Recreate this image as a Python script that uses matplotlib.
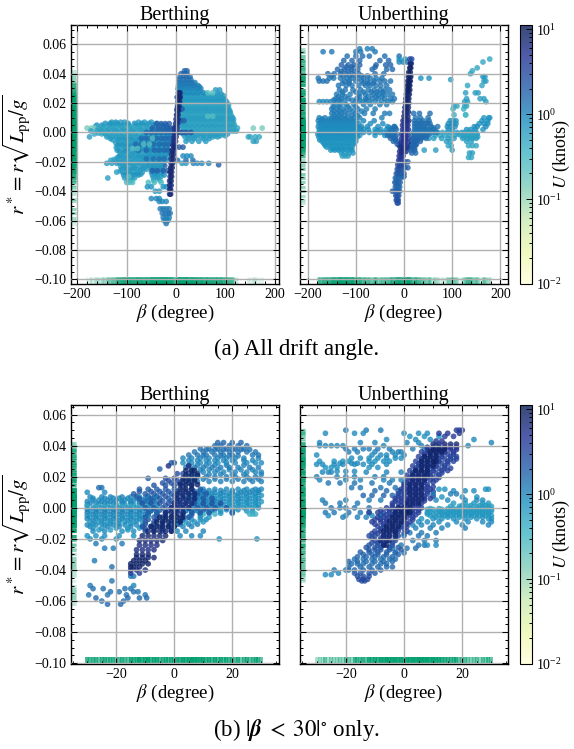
import numpy as np
import matplotlib
matplotlib.use('Agg')
import matplotlib.pyplot as plt
from matplotlib.colors import LogNorm
from matplotlib.ticker import MultipleLocator

plt.rcParams['font.family'] = ['Liberation Serif', 'DejaVu Serif']
plt.rcParams['mathtext.fontset'] = 'stix'

# each row: r*, U (knots), list of beta values
berth_all_fill = [
    (0.0062, 0.8, [-143, -133, -119, -97, -84, -69, -55, -38]),
    (0.0041, 0.5, [-163, -147, -129, -111, -93, -77, -61, -43, -33, -24]),
    (0.0021, 0.7, [-153, -137, -123, -107, -89, -71, -53, -37, -19]),
    (-0.0004, 0.5, [-157, -146, -127, -117, -99, -83, -67, -49, -31, -17]),
    (-0.0022, 0.4, [-137, -123, -109, -93, -79, -63, -47, -29, -13]),
    (-0.0041, 0.7, [-133, -114, -103, -91, -73, -55, -35, -21]),
    (-0.0062, 0.5, [-117, -101, -83, -71, -53, -41, -23]),
    (-0.0081, 0.7, [-113, -95, -75, -63, -44, -33, -17]),
    (-0.0102, 0.5, [-121, -103, -93, -73, -55, -43, -25]),
    (-0.0121, 0.7, [-119, -101, -83, -61, -51, -31, -21]),
    (-0.0143, 0.5, [-107, -87, -77, -57, -37, -27, -17]),
    (-0.0162, 0.7, [-115, -95, -75, -65, -45, -25]),
    (-0.0183, 0.5, [-125, -105, -85, -67, -55, -35, -23]),
    (-0.0204, 0.7, [-115, -95, -75, -57, -37]),
    (-0.0221, 0.5, [-107, -87, -67, -47, -27]),
    (-0.0243, 0.7, [-105, -85, -65, -45, -33]),
    (-0.0262, 0.5, [-113, -93, -73, -43, -35]),
    (-0.0283, 0.7, [-101, -81, -71, -43, -29]),
    (-0.0302, 0.5, [-99, -89, -41, -31]),
    (-0.0325, 0.4, [-97, -91, -45, -33]),
    (0.0013, 1.4, [-47, -33, -25, -15, -9]),
    (-0.0021, 1.5, [-65, -45, -35, -26, -16, -8]),
    (-0.0061, 1.4, [-75, -53, -41, -29, -19, -11]),
    (-0.0104, 1.5, [-67, -49, -37, -27, -19]),
    (-0.015, 1.6, [-53, -39, -29, -21]),
    (-0.0225, 1.8, [-55, -43, -31, -23]),
    (0.0012, 0.7, [19, 29, 39, 49, 59, 69, 79, 89, 99, 109, 118]),
    (0.0041, 0.5, [15, 25, 35, 45, 55, 65, 75, 85, 95, 105, 115]),
    (0.0061, 0.7, [13, 23, 33, 43, 53, 63, 73, 83, 93, 103, 113]),
    (0.0082, 0.5, [13, 23, 33, 43, 53, 63, 73, 83, 93, 103, 113]),
    (0.0101, 0.7, [15, 25, 35, 45, 55, 65, 75, 85, 95, 105, 114]),
    (0.0122, 0.5, [15, 25, 35, 45, 55, 65, 77, 87, 97, 107]),
    (0.0141, 0.6, [14, 23, 33, 43, 55, 63, 73, 83, 93, 103, 109]),
    (0.0161, 0.5, [13, 23, 33, 43, 53, 63, 73, 83, 93, 103]),
    (0.018, 0.7, [13, 23, 33, 43, 53, 63, 73, 83, 93, 103]),
    (0.0202, 0.5, [11, 21, 31, 41, 51, 61, 71, 81, 91, 101]),
    (0.0221, 0.7, [11, 21, 31, 41, 51, 61, 71, 81, 91, 99]),
    (0.024, 0.5, [11, 21, 31, 41, 51, 61, 71, 81, 91]),
    (0.0262, 0.9, [10, 19, 29, 39, 49, 60, 83, 91]),
    (0.0281, 0.8, [9, 19, 29, 39, 49]),
    (0.0312, 1.0, [9, 18, 28, 38, 47]),
    (0.0332, 1.2, [10, 18, 26, 34]),
    (-0.0022, 0.7, [23, 33, 43, 55, 69, 79, 89, 99]),
    (-0.0042, 0.7, [25, 37, 55, 67]),
]

berth_all = [
    (0.007, 0.7, [-130, -122, -112, -104, -76, -64, -50]),
    (0.005, 0.7, [-160, -150, -136, -126, -116, -106, -96, -82, -72, -60, -46, -30, -20]),
    (0.003, 0.15, [-180, -172, -164]),
    (0.003, 0.5, [-156, -146, -136, -126, -116, -106, -96, -86, -76, -66, -56, -46, -36, -26, -16]),
    (0.001, 0.6, [-172, -160, -150, -140, -130, -120, -110, -100, -90, -80, -70, -60, -50, -40, -30, -20, -12]),
    (-0.001, 0.5, [-165, -150, -142, -134, -124, -114, -104, -94, -84, -74, -64, -54, -44, -34, -24, -14]),
    (-0.003, 0.6, [-175, -140, -130, -120, -110, -100, -90, -80, -70, -60, -50, -40, -30, -20, -10]),
    (-0.005, 0.7, [-128, -118, -108, -98, -88, -78, -68, -58, -48, -38, -28, -18]),
    (-0.007, 0.6, [-122, -112, -104, -96, -86, -76, -66, -56, -46, -36, -26, -16]),
    (-0.009, 0.8, [-118, -108, -100, -90, -80, -70, -60, -50, -40, -30, -20]),
    (-0.011, 0.6, [-116, -106, -98, -88, -78, -68, -58, -48, -38, -28, -18]),
    (-0.013, 0.8, [-114, -104, -94, -84, -74, -64, -54, -44, -34, -24, -14]),
    (-0.015, 0.6, [-112, -102, -92, -82, -72, -62, -52, -42, -32, -22]),
    (-0.017, 0.7, [-118, -108, -98, -88, -78, -68, -58, -48, -38, -28, -18]),
    (-0.019, 0.6, [-132, -122, -112, -102, -92, -82, -72, -62, -52, -42, -32, -20]),
    (-0.021, 0.7, [-140, -130, -120, -110, -100, -90, -80, -70, -60, -50, -40, -30, 12, 20]),
    (-0.023, 0.6, [-112, -102, -92, -82, -72, -62, -52, -42, -32]),
    (-0.025, 0.7, [-110, -100, -90, -80, -70, -60, -50, -40, -28]),
    (-0.027, 0.6, [-120, -108, -98, -88, -78, -68, -50, -40, -30]),
    (-0.029, 0.8, [-106, -96, -86, -76, -48, -38, -24]),
    (-0.031, 0.6, [-138, -104, -94, -84, -46, -36]),
    (-0.034, 0.3, [-100, -94, -88, -56, -44, -30]),
    (-0.037, 0.8, [-58, -50, -26, -20]),
    (-0.04, 0.7, [-42, -34]),
    (-0.045, 1.0, [-50, -40, -34]),
    (-0.047, 1.0, [-34, -28, -20]),
    (-0.052, 1.2, [-32, -26, -20, -14]),
    (-0.055, 1.3, [-28, -22, -16, -12]),
    (-0.058, 1.2, [-26, -20, -14]),
    (-0.06, 1.0, [-24, -20, -16]),
    (-0.062, 1.4, [-20]),
    (0.006, 2.0, [-40, -30, -22, -14]),
    (0.003, 2.0, [-48, -36, -26, -18, -12, -6]),
    (0.0, 1.8, [-60, -50, -40, -30, -20, -12, -6]),
    (-0.004, 1.6, [-70, -60, -50, -40, -30, -22, -14, -6]),
    (-0.008, 1.6, [-82, -70, -58, -46, -34, -24, -16, -8]),
    (-0.012, 1.7, [-76, -60, -44, -34, -24, -16]),
    (-0.018, 1.5, [-60, -46, -34, -24]),
    (-0.026, 2.0, [-48, -38, -26, -18]),
    (-0.011, 0.25, [-88, -78]),
    (-0.008, 0.25, [-66, -54]),
    (-0.004, 0.25, [-48]),
    (-0.03, 0.25, [-96]),
    (-0.021, 1.0, [35, 43, 52, 66]),
    (-0.019, 1.5, [3, 20, 34]),
    (-0.022, 2.0, [86]),
    (-0.016, 0.9, [14, 30, 22]),
    (-0.006, 0.7, [20, 32, 46, 60]),
    (-0.003, 0.6, [18, 28, 38, 50, 62, 74, 84]),
    (-0.001, 0.6, [14, 24, 34, 44, 54, 64, 74, 84, 94, 104]),
    (0.001, 0.6, [14, 24, 34, 44, 54, 64, 74, 84, 94, 104, 114, 122]),
    (0.003, 0.5, [10, 20, 30, 40, 50, 60, 70, 80, 90, 100, 110, 124]),
    (0.005, 0.6, [8, 18, 28, 38, 48, 58, 68, 78, 88, 98, 108, 118]),
    (0.007, 0.5, [8, 18, 28, 38, 48, 58, 68, 78, 88, 98, 108, 116]),
    (0.009, 0.6, [10, 20, 30, 40, 50, 60, 70, 80, 90, 100, 110, 116]),
    (0.011, 0.6, [10, 20, 30, 40, 50, 60, 72, 82, 92, 102, 112]),
    (0.013, 0.5, [10, 20, 30, 40, 50, 60, 70, 80, 90, 100, 110]),
    (0.015, 0.6, [8, 18, 28, 38, 48, 58, 68, 78, 88, 98, 108]),
    (0.017, 0.6, [8, 18, 28, 38, 48, 58, 68, 78, 88, 98, 106]),
    (0.019, 0.5, [8, 18, 28, 38, 48, 58, 68, 78, 88, 98, 106]),
    (0.021, 0.6, [6, 16, 26, 36, 46, 56, 66, 76, 86, 96, 102]),
    (0.023, 0.7, [6, 16, 26, 36, 46, 56, 66, 76, 86, 96]),
    (0.025, 0.6, [6, 16, 26, 36, 46, 54, 64, 74, 84, 96]),
    (0.027, 0.9, [5, 14, 24, 34, 44, 56]),
    (0.029, 0.7, [5, 14, 24, 34, 44, 80, 88]),
    (0.027, 0.25, [64, 74]),
    (0.011, 0.25, [64, 74]),
    (0.03, 1.0, [4, 12, 22, 32, 42, 50]),
    (0.032, 1.1, [5, 14, 24, 34, 44]),
    (0.034, 1.2, [6, 14, 22, 30, 38]),
    (0.036, 1.4, [6, 14, 22, 30]),
    (0.038, 1.5, [8, 15, 22, 28]),
    (0.04, 1.6, [10, 16, 22]),
    (0.042, 1.7, [17, 22]),
    (0.003, 0.15, [156, 174]),
    (-0.003, 0.5, [146, 150, 160, 168]),
    (-0.006, 0.6, [156, 162]),
    (0.008, 1.8, [4, 10, 16]),
    (0.016, 2.0, [2, 6, 12]),
    (0.024, 2.2, [2, 8]),
    (0.0, 2.5, [0, 6, 12, 20, 30]),
    (-0.01, 2.2, [-2, 6, 14]),
    # navy streak
    (-0.042, 7, [-13, -11]), (-0.039, 7, [-13, -11]), (-0.036, 7, [-13, -10]),
    (-0.033, 8, [-13, -10]), (-0.03, 8, [-12, -9]), (-0.027, 8, [-12, -9]),
    (-0.024, 8, [-11, -8]), (-0.021, 8, [-10, -7]), (-0.018, 8, [-10, -6]),
    (-0.015, 8, [-9, -5]), (-0.012, 8, [-8, -4]), (-0.009, 7, [-6, -3]),
    (-0.006, 6, [-5, -1]), (-0.003, 6, [-4, 0]), (0.0, 6, [-3, 1]),
    (0.003, 6, [-2, 2]), (0.006, 7, [-1, 3]), (0.009, 7, [0, 4]),
    (0.012, 8, [1, 4]), (0.015, 8, [2, 5]), (0.018, 8, [3, 6]),
    (0.021, 8, [4, 7]), (0.024, 8, [5, 8]), (0.027, 8, [5, 8]),
]

unberth_all_fill = [
    (-0.0092, 0.7, [-163, -153, -145, -137, -129, -121, -113]),
    (-0.0112, 0.8, [-147, -139, -131, -123, -111]),
    (-0.0071, 0.7, [-167, -157, -147, -137, -127, -117, -105]),
    (-0.0051, 0.8, [-175, -165, -155, -145, -135, -125, -115, -107]),
    (-0.0031, 0.7, [-177, -169, -159, -149, -139, -129, -119, -109, -97]),
    (-0.0012, 0.8, [-179, -171, -161, -151, -141, -131, -121, -111, -99]),
    (0.0011, 0.8, [-171, -161, -151, -141, -131, -121, -111, -101, -90, -55]),
    (0.0031, 0.9, [-172, -161, -151, -141, -131, -121, -111, -101, -91]),
    (0.0052, 0.9, [-171, -161, -151, -141, -131, -121, -111, -100]),
    (0.0072, 1.0, [-172, -162, -152, -141, -130, -118, -106]),
    (0.0092, 1.1, [-170, -155, -144, -134, -122, -110]),
    (0.0115, 1.2, [-145, -135, -124, -108, -96]),
    (0.0145, 1.2, [-145, -133, -122, -106, -88]),
    (0.0175, 1.2, [-147, -135, -116, -100]),
    (0.022, 1.3, [-146, -134, -108, -92, -78]),
    (0.0245, 1.2, [-136, -122, -92, -74, -58, -46]),
    (0.0275, 1.3, [-128, -100, -84, -68, -56, -44]),
    (0.0335, 1.3, [-128, -114, -84, -74, -64]),
    (0.0385, 1.4, [-150, -126, -112, -100, -88, -76]),
    (0.0415, 1.5, [-130, -116, -102]),
    (0.0445, 1.6, [-120, -108, -60]),
    (0.0012, 1.2, [-24, 25, 35, 45, 55, 65]),
    (0.0032, 1.3, [-30, -18, 27, 37, 47, 61]),
    (-0.0012, 1.4, [-30, -20, 23, 33, 43, 53]),
    (-0.0032, 1.5, [-23, 22, 31, 41]),
    (-0.0052, 1.7, [-18, 20, 28]),
    (0.0065, 1.4, [27, 37, 49]),
    (-0.0012, 0.6, [112, 122, 132, 140, 152]),
    (-0.003, 0.6, [125, 137, 147, 153]),
    (0.0, 0.7, [110, 120, 138, 146]),
    (-0.0085, 1.5, [-10, 14, 20, 24]),
    (-0.0105, 1.6, [10, 16, 22]),
]

unberth_all = [
    (-0.008, 0.8, [-165, -155, -145, -135, -125, -115, -105]),
    (-0.01, 0.7, [-160, -150, -142, -134, -126, -118, -108]),
    (-0.012, 0.8, [-152, -144, -136, -128, -116, -108]),
    (-0.014, 0.7, [-130, -122, -114, -106]),
    (-0.016, 0.6, [-128, -122, -116]),
    (-0.006, 0.7, [-170, -160, -150, -140, -130, -120, -110, -100]),
    (-0.004, 0.8, [-172, -162, -152, -142, -132, -122, -112, -102]),
    (-0.002, 0.8, [-174, -164, -154, -144, -134, -124, -114, -104, -92, -60, -40, -30]),
    (0.0, 0.9, [-176, -166, -156, -146, -136, -126, -116, -106, -96, -84, -72, -60, -50, -42, -34, -26]),
    (0.002, 0.8, [-176, -166, -156, -146, -136, -126, -116, -106, -96, -84, -74, -60, -48, -36, -24]),
    (0.004, 0.9, [-178, -168, -158, -148, -138, -128, -118, -108, -98, -88, -76, -54, -34, -20]),
    (0.006, 0.9, [-176, -166, -156, -146, -136, -126, -116, -106, -94, -70, -44]),
    (0.008, 1.0, [-178, -168, -158, -148, -136, -124, -112, -100, -84, -62]),
    (0.01, 1.1, [-176, -164, -150, -140, -130, -118, -104, -92, -46]),
    (0.013, 1.2, [-150, -140, -130, -116, -100, -82, -64, -40, -30]),
    (0.016, 1.2, [-150, -138, -126, -112, -96, -78, -60]),
    (0.019, 1.1, [-144, -132, -120, -104, -84, -70, -50, -36]),
    (0.021, 1.0, [-176, -168, -160, -152, -138, -124, -100, -86, -72, -60, -46, -34, -24]),
    (0.023, 1.3, [-142, -130, -116, -98, -80, -66, -54, -40, -28, -20]),
    (0.026, 1.2, [-140, -128, -112, -94, -80, -64, -54, -44, -34, -24]),
    (0.029, 1.3, [-134, -122, -106, -90, -74, -62, -50, -40, -30]),
    (0.032, 1.3, [-136, -120, -108, -94, -80, -70, -58, -48, -36]),
    (0.035, 1.4, [-176, -168, -160, -124, -114, -100, -88, -76, -62, -50, -40, -28]),
    (0.037, 1.3, [-178, -155, -146, -132, -118, -108, -96, -84, -70, -58, -46]),
    (0.04, 1.5, [-158, -145, -132, -120, -108, -94, -60, -42]),
    (0.043, 1.6, [-138, -124, -110, -96, -66, -36, -24]),
    (0.046, 1.8, [-130, -116, -104, -92, -58, -38, -28]),
    (0.049, 1.7, [-125, -108, -92, -50, -32]),
    (0.052, 1.5, [-118, -100, -86, -72, -40, -10]),
    (0.055, 1.3, [-168, -150, -100, -90, -60]),
    (0.057, 1.2, [-92, -76, -66]),
    (0.048, 1.0, [-10, -2, 6]),
    (0.05, 0.8, [-10, 2]),
    (0.037, 0.8, [35, 52]),
    (0.036, 0.6, [97]),
    (0.05, 0.5, [178]),
    (0.048, 0.5, [164]),
    (0.044, 0.5, [152]),
    (0.042, 0.5, [142]),
    (0.04, 0.5, [138]),
    (0.038, 0.7, [164, 168]),
    (0.035, 0.6, [166, 170]),
    (0.032, 0.5, [132, 162]),
    (0.027, 0.6, [128, 148, 154]),
    (0.023, 0.6, [130, 158, 166]),
    (0.021, 0.6, [126, 132, 170]),
    (0.018, 0.5, [104, 110, 126, 130]),
    (0.016, 0.4, [102, 124]),
    (0.012, 0.4, [104, 128]),
    (0.012, 0.3, [128]),
    (0.01, 0.7, [166, 176, 178]),
    (0.008, 0.8, [96, 102, 108, 162, 174]),
    (0.006, 0.8, [92, 100, 108, 156, 166, 174]),
    (0.004, 0.9, [90, 98, 106, 146, 152, 170]),
    (0.002, 0.8, [92, 100, 130, 138, 148, 164]),
    (0.0, 0.6, [70, 80, 90, 100, 126, 134, 142, 150]),
    (-0.002, 0.5, [65, 75, 85, 95, 105, 118, 128, 136, 146]),
    (-0.004, 0.6, [52, 62, 78, 92, 104, 122, 132, 142, 150]),
    (-0.006, 0.6, [88, 96, 130, 140]),
    (-0.009, 0.5, [92, 98, 134, 142, 150]),
    (-0.012, 0.6, [42, 66, 100]),
    (-0.014, 0.6, [136, 142]),
    (-0.017, 0.5, [134, 140]),
    (0.0, 1.2, [-30, -20, 20, 30, 40, 50, 60, 68]),
    (0.002, 1.3, [-26, -16, 22, 32, 42, 52, 62]),
    (0.004, 1.4, [-20, 22, 32, 42, 56, 70]),
    (0.006, 1.5, [22, 32, 44, 54]),
    (0.008, 1.4, [22, 32, 40, 52]),
    (0.01, 1.3, [24, 34, 50]),
    (0.013, 1.5, [20, 32, 54]),
    (-0.002, 1.5, [-34, -24, -16, 18, 28, 38, 48]),
    (-0.004, 1.6, [-28, -18, 18, 26, 36, 46]),
    (-0.006, 1.7, [-22, -14, 16, 24, 34]),
    (-0.008, 1.7, [-14, 18, 26]),
    (-0.012, 1.8, [14, 22]),
    (-0.014, 1.6, [16, 24]),
    (-0.02, 2.0, [2, 8]),
    (-0.024, 1.8, [2, 8]),
    (-0.03, 1.8, [0, -2]),
    (-0.048, 2.5, [-14, -12]),
    (-0.046, 2.5, [-16, -14, -12]),
    (-0.043, 2.3, [-17, -14, -11]),
    (-0.04, 2.0, [-24, -18, -15, -12, -9]),
    (-0.037, 1.6, [-18, -15, -12, -9]),
    (-0.034, 1.8, [-19, -16, -12, -8]),
    (-0.031, 1.6, [-18, -15, -11, -7]),
    (-0.028, 2.0, [-16, -13, -9, -5, 0]),
    (-0.025, 2.3, [-14, -11, -7, -3]),
    (-0.022, 3.0, [-13, -9, -5, -1]),
    (-0.019, 4.0, [-11, -8, -4]),
    (-0.016, 5.0, [-10, -6, -2]),
    (-0.013, 6.0, [-9, -5, -1, 4]),
    (-0.01, 6.0, [-8, -4, 0, 6]),
    (-0.007, 5.0, [-6, -2, 2, 8]),
    (-0.004, 5.0, [-5, -1, 3, 8]),
    (-0.001, 5.0, [-5, -1, 3, 8]),
    (0.002, 5.0, [-3, 1, 5, 9]),
    (0.005, 5.0, [-3, 1, 5, 8]),
    (0.008, 6.0, [-2, 2, 6, 10]),
    (0.011, 7.0, [0, 4, 8]),
    (0.014, 7.0, [1, 5, 9]),
    (0.017, 8.0, [2, 5, 9]),
    (0.02, 8.0, [3, 6, 10]),
    (0.023, 8.0, [4, 7, 10]),
    (0.026, 8.0, [5, 8, 11]),
    (0.029, 9.0, [6, 9, 12]),
    (0.032, 9.0, [7, 10, 12]),
    (0.035, 9.0, [8, 11, 13]),
    (0.038, 9.0, [9, 12, 14]),
    (0.041, 9.0, [10, 13]),
    (0.044, 9.0, [12, 14]),
    (0.047, 8.0, [13, 15]),
    (0.05, 3.0, [12, 16]),
]

berth_zoom_fill = [
    (0.0062, 0.9, [-28, -24, -21, -19, -16, -13, -10, -7]),
    (0.0041, 1.0, [-30, -25, -22, -18, -15, -12, -9]),
    (0.0021, 0.8, [-30, -26, -23, -20, -17, -14, -11, -8]),
    (-0.0001, 1.0, [-28, -25, -22, -19, -16, -13, -10, -7]),
    (-0.0021, 0.8, [-29, -26, -23, -20, -17, -14, -11, -8]),
    (-0.0042, 1.1, [-28, -25, -22, -19, -16, -13, -10]),
    (-0.0061, 0.8, [-29, -26, -23, -20, -17, -14, -11]),
    (-0.0082, 1.0, [-28, -25, -22, -19, -16, -13]),
    (-0.0102, 0.8, [-28, -25, -22, -19, -15]),
    (-0.012, 1.0, [-29, -23, -19, -15, -11]),
    (-0.0142, 0.7, [-26, -22, -16]),
    (0.0011, 0.7, [7, 10, 13, 16, 19, 22, 25, 28]),
    (0.0032, 0.8, [7, 10, 13, 16, 19, 22, 25, 28]),
    (0.0051, 0.9, [7, 10, 13, 16, 19, 22, 25, 28]),
    (0.0072, 0.7, [7, 10, 13, 16, 19, 22, 25, 28]),
    (0.0091, 0.9, [7, 10, 13, 16, 19, 22, 25, 28]),
    (0.0112, 1.0, [9, 12, 16, 20, 24, 27, 29]),
    (-0.0012, 0.9, [6, 10, 14, 18, 22]),
    (-0.0035, 0.8, [6, 9, 12, 16, 20]),
    (-0.0075, 0.9, [3, 6, 9, 11]),
    (-0.0105, 1.1, [2, 5, 8]),
    (0.0185, 1.2, [6, 10, 14, 18, 22, 26, 29]),
    (0.0215, 1.1, [7, 12, 16, 20, 24, 30]),
    (0.0245, 1.0, [6, 9, 12, 15, 19, 23, 27]),
    (0.0275, 1.1, [5, 8, 11, 14, 18, 24]),
    (0.0305, 1.0, [5, 8, 11, 14, 17, 20, 24, 27]),
    (0.0335, 1.3, [10, 16, 19, 22]),
    (0.0375, 1.4, [11, 14, 17, 20, 23, 26]),
    (0.0105, 2.2, [-12, -8, -5, -2, 1, 4, 7, 10]),
    (0.0075, 2.4, [-13, -9, -6, -3, 0, 3, 6, 9]),
    (0.0045, 2.2, [-10, -7, -4, -1, 2, 5, 8, 11, 14]),
    (0.0015, 2.4, [-9, -6, -3, 0, 3, 6, 9, 12, 15]),
    (-0.0015, 2.2, [-8, -5, -2, 1, 4, 7, 10, 13]),
    (-0.0045, 2.3, [-9, -6, -3, 0, 3, 6, 9]),
    (-0.0075, 2.5, [-9, -6, -3, 0, 3]),
    (-0.0105, 2.6, [-10, -7, -4, -1, 1]),
    (-0.0135, 2.8, [-10, -7, -4, -1]),
    (0.0145, 2.5, [-7, -3, 0, 3, 6]),
    (0.0175, 3.0, [-2, 1, 4, 7]),
    (0.022, 3.0, [1, 3, 5, 8]),
]

berth_zoom = [
    (0.01, 0.9, [-30, -24]),
    (0.013, 1.5, [-26, -25]),
    (0.007, 1.0, [-29, -25, -22, -18, -15, -12, -9, -6]),
    (0.005, 0.9, [-28, -26, -23, -20, -17, -14, -11, -8]),
    (0.003, 1.0, [-29, -27, -24, -21, -18, -15, -12, -9, -6]),
    (0.001, 0.5, [-30, -27, -24, -21, -18, -15, -12, -9, -6]),
    (-0.001, 0.9, [-30, -27, -24, -21, -18, -15, -12, -9, -6]),
    (-0.003, 1.1, [-30, -27, -24, -21, -18, -15, -12, -9, -6]),
    (-0.005, 0.8, [-30, -27, -24, -21, -18, -15, -12, -9]),
    (-0.007, 1.0, [-30, -27, -24, -21, -18, -15, -12]),
    (-0.009, 0.7, [-29, -26, -23, -20, -17, -14, -11]),
    (-0.011, 0.9, [-30, -27, -24, -21, -17, -13]),
    (-0.013, 0.7, [-28, -25, -20, -16, -12]),
    (-0.015, 0.9, [-28, -24, -18, -14]),
    (-0.018, 0.8, [-30, -27, -24, -19, -14]),
    (-0.02, 0.9, [-29, -25, -20]),
    (-0.023, 1.2, [-27, -18]),
    (-0.026, 1.2, [-24, -21]),
    (-0.034, 1.2, [-27.5]),
    (-0.038, 1.4, [-21.5]),
    (-0.047, 1.3, [-21.5]),
    (-0.05, 1.3, [-29]),
    (-0.052, 1.4, [-28, -24.5, -17, -15]),
    (-0.054, 1.4, [-22, -19, -14, -12.5]),
    (-0.056, 1.3, [-29.5, -23, -16.5, -10]),
    (-0.058, 1.6, [-27, -16, -12, -9.5]),
    (-0.06, 1.4, [-25, -17.5]),
    (-0.062, 1.6, [-23, -18.5]),
    (-0.044, 1.2, [-15, -14]),
    (-0.05, 1.0, [-14]),
    # right band
    (0.0, 0.7, [6, 9, 12, 15, 18, 21, 24, 27, 29]),
    (0.002, 0.8, [8, 11, 14, 17, 20, 23, 26, 29]),
    (0.004, 0.7, [6, 9, 12, 15, 18, 21, 24, 27, 30]),
    (0.006, 0.9, [8, 11, 14, 17, 20, 23, 26, 29]),
    (0.008, 0.8, [6, 9, 12, 15, 18, 21, 24, 27, 30]),
    (0.01, 1.0, [8, 11, 14, 17, 20, 23, 26, 29]),
    (0.012, 0.9, [10, 14, 18, 22, 25, 28, 30]),
    (-0.002, 0.8, [4, 8, 12, 16, 20, 25, 27]),
    (-0.004, 0.4, [10, 14, 26, 27, 28]),
    (-0.006, 0.7, [5, 9, 12]),
    (-0.009, 0.7, [1, 4, 7, 10]),
    (-0.012, 1.0, [0, 3, 6]),
    (-0.015, 1.0, [1, 4, 10]),
    (-0.018, 1.0, [2, 9, 6]),
    (-0.02, 0.8, [15.5, 28.5]),
    # upper arc
    (0.017, 1.1, [8, 12, 16, 20, 24, 27, 30]),
    (0.02, 1.2, [5, 8, 11, 14, 18, 21, 25, 28]),
    (0.023, 1.0, [10, 14, 17, 21, 25, 28, 30]),
    (0.026, 1.2, [4, 7, 10, 13, 16, 19, 22, 26, 29]),
    (0.029, 0.9, [3, 6, 9, 12, 15, 18, 21, 25, 28, 30]),
    (0.032, 1.0, [3, 6, 9, 12, 15, 18, 21, 24, 29]),
    (0.034, 1.3, [5, 8, 11, 14, 17, 20, 27, 29]),
    (0.036, 1.3, [7, 10, 13, 16, 19, 22, 25, 28]),
    (0.038, 1.5, [9, 12, 15, 18, 21, 24]),
    (0.04, 1.5, [14, 16, 19, 22, 25]),
    (0.042, 1.7, [15, 17, 20, 23]),
    (0.029, 2.0, [-1, 0]),
    (0.025, 1.8, [-5]),
    (0.019, 2.0, [-9]),
    # mid blue body
    (0.012, 2.0, [-12, -9, -6, -3, 0, 3, 6, 9]),
    (0.009, 2.2, [-14, -10, -7, -4, -1, 2, 5, 8, 11]),
    (0.006, 2.2, [-12, -8, -5, -2, 1, 4, 7, 10, 13]),
    (0.003, 2.5, [-11, -8, -5, -2, 1, 4, 7, 10, 13, 16]),
    (0.0, 2.3, [-10, -7, -4, -1, 2, 5, 8, 11, 14, 18]),
    (-0.003, 2.0, [-9, -6, -3, 0, 3, 6, 9, 12, 20]),
    (-0.006, 2.2, [-10, -7, -4, -1, 2, 5]),
    (-0.009, 2.4, [-10, -7, -4, -1, 2]),
    (-0.012, 2.5, [-11, -8, -5, -2]),
    (-0.015, 2.8, [-10, -7, -4, -1]),
    (0.016, 2.5, [-4, -1, 2, 5]),
    (0.019, 2.8, [-3, 0, 3]),
    # navy diagonal
    (-0.042, 4.0, [-15, -12]),
    (-0.04, 6.0, [-15, -13, -10]),
    (-0.038, 9.0, [-15, -14, -12]),
    (-0.036, 9.0, [-15, -13, -11, -9]),
    (-0.034, 9.0, [-14, -12, -10]),
    (-0.032, 8.0, [-13, -11, -9, -7]),
    (-0.03, 8.0, [-13, -11, -9]),
    (-0.027, 6.0, [-13, -11, -9, -7]),
    (-0.024, 6.0, [-12, -10, -8, -6]),
    (-0.021, 7.0, [-12, -10, -8, -6, -4]),
    (-0.018, 8.0, [-11, -9, -7, -5, -3]),
    (-0.015, 8.0, [-9, -7, -5, -3, -1]),
    (-0.012, 9.0, [-8, -6, -4, -2, 0]),
    (-0.009, 9.0, [-6, -4, -2, 0, 2]),
    (-0.006, 9.0, [-5, -3, -1, 1, 3]),
    (-0.003, 8.0, [-3, -1, 1, 3]),
    (0.0, 7.0, [-1, 1, 3, 5]),
    (0.003, 7.0, [0, 2, 4, 6]),
    (0.006, 8.0, [1, 3, 5, 7]),
    (0.009, 8.0, [1, 3, 5, 7]),
    (0.012, 9.0, [2, 4, 6]),
    (0.015, 9.0, [2, 4, 6, 8]),
    (0.018, 9.0, [3, 5, 7]),
    (0.021, 9.0, [4, 6, 8]),
    (0.024, 9.0, [4, 6, 7]),
    (0.027, 6.0, [-2, 5]),
]

unberth_zoom_fill = [
    (-0.0005, 0.6, [9, 12, 15, 17, 19, 21, 23, 25, 27, 29]),
    (-0.002, 0.7, [9, 12, 14, 16, 18, 20, 22, 24, 26, 28, 30]),
    (-0.004, 0.6, [8, 10, 13, 15, 17, 19, 21, 23, 25, 27, 29]),
    (-0.006, 0.8, [11, 15, 19, 23, 27]),
    (0.0015, 0.7, [20, 23, 26, 28]),
    (-0.0345, 1.6, [-19, -16, -13, -10, -7, -4]),
    (-0.0315, 1.7, [-16, -13, -10, -7, -4]),
    (-0.0285, 2.0, [-15, -12, -9, -6, -3]),
    (-0.0255, 2.3, [-13, -10, -8, -5, -2]),
    (-0.0225, 2.8, [-11, -9, -7, -4]),
    (-0.0195, 3.0, [-11, -8, -6, -3]),
    (-0.0165, 3.5, [-11, -9, -6, -3, 0]),
    (-0.0135, 3.5, [-8, -6, -4, -2, 0]),
    (-0.0105, 4.0, [-10, -7, -4, -1, 1]),
    (-0.0075, 4.0, [-10, -8, -6, -3, 0, 3]),
    (-0.0045, 3.5, [-8, -6, -4, -2, 0, 2, 4]),
    (-0.0015, 4.0, [-8, -5, -3, -1, 1, 3, 5]),
    (0.0015, 4.0, [-4, -1, 1, 3, 5]),
    (0.0045, 4.0, [-3, -1, 1, 3, 5, 7]),
    (0.0075, 3.5, [-2, 0, 3, 5, 7, 10]),
    (0.0105, 4.0, [-1, 1, 3, 5, 8, 10]),
    (0.0135, 4.0, [0, 2, 4, 6, 8, 10]),
    (0.0165, 4.0, [1, 3, 5, 7, 10]),
    (0.0195, 3.5, [2, 4, 6, 8, 10, 12]),
    (0.0225, 3.5, [3, 5, 7, 9, 11, 13]),
    (0.0255, 3.5, [4, 6, 8, 10, 12, 14, 16]),
    (0.0285, 3.5, [5, 7, 9, 11, 13, 15]),
    (0.0315, 3.5, [6, 8, 10, 12, 14, 16, 18]),
    (0.0345, 4.0, [7, 9, 11, 13, 15, 17]),
    (0.0375, 4.5, [8, 10, 12, 14, 16, 18]),
    (0.0287, 1.0, [-18, -16, -22]),
    (0.0235, 0.9, [-20, -23, -17]),
]

unberth_zoom = [
    (0.05, 1.2, [-20, -13, -8]),
    (0.048, 0.9, [-27, -17, -14, 0, 5, 8]),
    (0.046, 0.8, [2, 7, 12]),
    (0.044, 0.9, [-6, 4, 9, 24]),
    (0.042, 1.0, [-29, -15, -10, 1, 5, 30]),
    (0.04, 1.0, [-29, -27, -25, -23, -21, -7, 6, 11, 22]),
    (0.038, 1.2, [-17, -20, -14, -12, -9, -5, 3, 7]),
    (0.036, 1.1, [-19, -16, -10, -4, -1, -2]),
    (0.034, 0.9, [-30, -11, -8, -6, -3, 0]),
    (0.032, 0.9, [-18, -15, -12, -9, -6, -3, -1]),
    (0.03, 0.8, [-29, -24, -21, -19, -12, -10, -7, -5]),
    (0.028, 0.9, [-30, -28, -24, -21, -17, -14, -11, -6]),
    (0.026, 0.8, [-27, -25, -23, -12, -9]),
    (0.023, 1.0, [-28, -26, -25, -13, -6, -1]),
    (0.02, 1.1, [-30, -23, -20, -17, -10, -7]),
    (0.018, 1.0, [-29, -20, -15, -7, -4, -1]),
    (0.016, 1.3, [-26, -22, -17, -11, -5, 0]),
    (0.013, 1.3, [-18, -15, -8, -3]),
    (0.011, 1.6, [-10, -6, -2]),
    (0.008, 1.8, [-14, -11, -7, -4]),
    (0.005, 1.1, [-28, -20, -12, -8]),
    (0.003, 1.2, [-27, -22, -16]),
    (0.0, 1.3, [-25, -22, -20, -17, -12]),
    (-0.003, 1.3, [-27, -24, -19, -15, -12]),
    (-0.006, 1.1, [-21, -16, -13]),
    (-0.005, 0.9, [-26, -20, -11, -8]),
    # right band
    (0.011, 0.9, [17, 24, 21]),
    (0.012, 0.8, [12, 14, 28, 29]),
    (0.009, 1.2, [10, 16, 18]),
    (0.007, 0.8, [13, 20, 25]),
    (0.005, 0.9, [11, 15, 21, 25, 27]),
    (0.003, 0.7, [17, 21, 24, 27, 29]),
    (0.001, 0.6, [16, 19, 22, 25, 27, 29, 30]),
    (-0.001, 0.6, [8, 10, 13, 16, 18, 20, 22, 24, 26, 28, 30]),
    (-0.003, 0.7, [8, 11, 13, 15, 17, 19, 21, 23, 25, 27, 29]),
    (-0.005, 0.7, [9, 12, 14, 16, 18, 20, 22, 24, 26, 28, 30]),
    (-0.007, 0.8, [6, 10, 13, 17, 21, 25, 29, 30]),
    (-0.009, 0.9, [5, 8, 12, 18, 22, 27, 30]),
    (-0.011, 1.0, [3, 6, 10, 15, 20, 29]),
    (-0.013, 1.1, [4, 9, 13, 21]),
    (-0.016, 1.2, [2, 6, 11]),
    (-0.018, 1.3, [0, 5, 8]),
    (-0.021, 1.1, [3, 7, 11]),
    (-0.024, 1.3, [-1, 5, 7]),
    (-0.026, 1.4, [-4, 1, 4]),
    (-0.029, 1.3, [-3, 0]),
    (-0.024, 0.9, [11, 8]),
    # lower left of the diagonal
    (-0.04, 1.2, [-24, -20, -19]),
    (-0.043, 0.9, [-27, -25]),
    (-0.042, 1.0, [-22.5]),
    (-0.036, 1.5, [-18, -16, -14, -11, -8, -6]),
    (-0.033, 1.5, [-17, -14, -11, -8, -5, -3]),
    (-0.038, 1.6, [-19, -15, -12, -9, -6, -4]),
    (-0.04, 1.8, [-17, -14, -11, -8]),
    (-0.042, 2.2, [-17, -15, -12, -10]),
    (-0.044, 2.8, [-16, -14, -12]),
    (-0.046, 3.0, [-15.5, -14, -12.5]),
    (-0.047, 3.0, [-14.5, -13.5]),
    (-0.03, 1.8, [-14, -11, -9, -6, -2]),
    (-0.027, 2.2, [-12, -10, -8, -5, -1]),
    (-0.024, 2.5, [-12, -9, -7, -4]),
    (-0.021, 3.0, [-10, -8, -6, -3]),
    (-0.018, 3.0, [-12, -10, -7, -5, -2]),
    (-0.015, 3.5, [-10, -8, -6, -4, -2, 1]),
    (-0.012, 3.5, [-9, -7, -5, -3, -1, 1]),
    (-0.009, 4.0, [-11, -8, -6, -4, -2, 0, 2]),
    (-0.006, 4.0, [-9, -7, -5, -3, -1, 1, 3]),
    (-0.003, 3.5, [-12, -9, -7, -5, -3, -1, 1, 3, 5]),
    (0.0, 4.0, [-6, -4, -2, 0, 2, 4, 6]),
    (0.003, 4.0, [-4, -2, 0, 2, 4, 6]),
    (0.006, 4.0, [-3, -1, 1, 3, 5, 7, 9]),
    (0.009, 3.5, [-2, 0, 2, 4, 6, 8]),
    (0.012, 4.0, [-1, 1, 3, 5, 7, 9]),
    (0.015, 4.0, [0, 2, 4, 6, 8]),
    (0.018, 4.0, [1, 3, 5, 7, 9, 11]),
    (0.021, 3.5, [1, 3, 5, 7, 9, 12]),
    (0.024, 3.5, [2, 4, 6, 8, 10, 13, 15]),
    (0.027, 3.5, [3, 5, 7, 9, 11, 14]),
    (0.03, 3.5, [4, 6, 8, 10, 12, 15, 17]),
    (0.033, 3.5, [5, 7, 9, 11, 13, 16, 18]),
    (0.036, 4.0, [6, 8, 10, 12, 14, 17]),
    (0.039, 5.0, [8, 10, 12, 14, 16, 18]),
    (0.041, 7.0, [10, 12, 14, 16, 18]),
    (0.043, 5.0, [11, 13]),
    (0.046, 4.0, [14, 17]),
    (0.048, 5.0, [12, 15, 19]),
    (0.05, 4.0, [18, 19, 20]),
    # navy diagonal
    (-0.024, 8.0, [-7, -6]),
    (-0.021, 7.0, [-8, -6, -5]),
    (-0.018, 8.0, [-7, -5, -3]),
    (-0.015, 9.0, [-7, -5, -3]),
    (-0.012, 9.0, [-6, -4, -2]),
    (-0.009, 9.0, [-5, -3, -1]),
    (-0.006, 9.0, [-4, -2, 0]),
    (-0.003, 9.0, [-3, -1, 1, 2]),
    (0.0, 8.0, [-2, 0, 2]),
    (0.003, 8.0, [1, 3, 5]),
    (0.006, 8.0, [2, 4, 6]),
    (0.009, 8.0, [2, 4, 6]),
    (0.012, 8.0, [2, 4, 6]),
    (0.015, 8.0, [2, 4, 6]),
    (0.018, 8.0, [3, 5, 7]),
    (0.021, 8.0, [3, 5, 7, 8]),
    (0.024, 9.0, [4, 6, 8]),
    (0.027, 9.0, [6, 8, 10]),
    (0.03, 9.0, [6, 8, 10, 11]),
    (0.033, 9.0, [7, 9, 11]),
    (0.036, 9.0, [9, 11, 13]),
    (0.038, 9.0, [10, 12, 14]),
]


def flatten(rows):
    beta, r, u = [], [], []
    for r_val, u_val, betas in rows:
        for b in betas:
            beta.append(b)
            r.append(r_val)
            u.append(u_val)
    return np.array(beta), np.array(r), np.array(u)


def draw_panel(ax, rows, title, norm, rug_lw=1.8):
    beta, r, u = flatten(rows)
    sc = ax.scatter(beta, r, c=u, s=17, cmap='YlGnBu', norm=norm, alpha=0.8,
                    linewidths=0, zorder=2)
    # rug along the two axes
    ax.vlines(beta, 0, 0.026, transform=ax.get_xaxis_transform(), color='#00a070',
              alpha=0.13, lw=rug_lw, zorder=1)
    ax.hlines(r, 0, 0.026, transform=ax.get_yaxis_transform(), color='#00a070',
              alpha=0.13, lw=2.2, zorder=1)
    ax.grid(True, color='#b0b0b0', lw=1, zorder=3)
    ax.set_axisbelow(False)
    ax.set_title(title, fontsize=14.5, pad=2)
    ax.set_xlabel(r'$\beta$ (degree)', fontsize=13.5, labelpad=1)
    ax.tick_params(which='both', direction='in', top=True, right=True, labelsize=10,
                   width=0.7, pad=3)
    ax.tick_params(which='major', length=4)
    ax.tick_params(which='minor', length=2)
    ax.yaxis.set_major_locator(MultipleLocator(0.02))
    ax.yaxis.set_minor_locator(MultipleLocator(0.005))
    for side in ax.spines.values():
        side.set_linewidth(1.0)
    return sc


def add_ylabel(ax):
    ax.set_ylabel(r'$r^* = r\sqrt{L_{\mathrm{pp}}/g}$', fontsize=15, labelpad=0)
    ax.yaxis.set_label_coords(-0.185, 0.5)


def make_colorbar(fig, sc, y0, h):
    cax = fig.add_axes([520 / 574, y0, 12 / 574, h])
    cb = fig.colorbar(sc, cax=cax)
    cb.set_label(r'$U$ (knots)', fontsize=13, labelpad=-8)
    cb.ax.tick_params(which='both', direction='in', labelsize=10, width=0.7, pad=3)
    cb.ax.tick_params(which='major', length=4)
    cb.ax.tick_params(which='minor', length=2)


def main():
    W, H = 574, 749
    fig = plt.figure(figsize=(W / 100, H / 100), dpi=100)
    norm = LogNorm(vmin=0.01, vmax=11.2)

    w_l = (279 - 70.7) / W
    w_r = (508 - 299.5) / W
    h_ax = 259 / H
    y_top = 1 - 284 / H
    y_bot = 1 - 664 / H

    ax1 = fig.add_axes([70.7 / W, y_top, w_l, h_ax])
    ax2 = fig.add_axes([299.5 / W, y_top, w_r, h_ax])
    ax3 = fig.add_axes([70.7 / W, y_bot, w_l, h_ax])
    ax4 = fig.add_axes([299.5 / W, y_bot, w_r, h_ax])

    sc = draw_panel(ax1, berth_all_fill + berth_all, 'Berthing', norm)
    draw_panel(ax2, unberth_all_fill + unberth_all, 'Unberthing', norm)
    sc2 = draw_panel(ax3, berth_zoom_fill + berth_zoom, 'Berthing', norm, rug_lw=2.6)
    draw_panel(ax4, unberth_zoom_fill + unberth_zoom, 'Unberthing', norm, rug_lw=2.6)

    ax1.set_xlim(-213, 208)
    ax2.set_xlim(-217, 216)
    ax3.set_xlim(-35.7, 36.1)
    ax4.set_xlim(-35.9, 35.7)
    for ax in (ax1, ax2):
        ax.set_ylim(-0.1032, 0.0732)
        ax.set_xticks([-200, -100, 0, 100, 200])
        ax.xaxis.set_minor_locator(MultipleLocator(20))
    for ax in (ax3, ax4):
        ax.set_ylim(-0.1005, 0.0662)
        ax.set_xticks([-20, 0, 20])
        ax.xaxis.set_minor_locator(MultipleLocator(5))
    for ax in (ax2, ax4):
        ax.tick_params(labelleft=False)
    add_ylabel(ax1)
    add_ylabel(ax3)

    make_colorbar(fig, sc, y_top, h_ax)
    make_colorbar(fig, sc2, y_bot, h_ax)

    fig.text(296.5 / W, 1 - 349 / H, '(a) All drift angle.', ha='center', va='center', fontsize=16.5)
    fig.text(296.5 / W, 1 - 730 / H, r'(b) $|\boldsymbol{\beta}\;<\;30|^{\circ}$ only.',
             ha='center', va='center', fontsize=16.5)

    fig.savefig('out.png', dpi=100)
    plt.close(fig)


if __name__ == "__main__":
    main()
